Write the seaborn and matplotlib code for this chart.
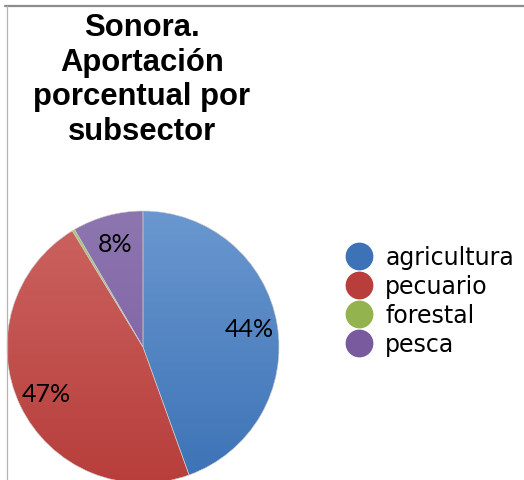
import numpy as np
import matplotlib
matplotlib.use("Agg")
import matplotlib.pyplot as plt
import seaborn as sns
from matplotlib.colors import LinearSegmentedColormap
from matplotlib.lines import Line2D

sns.set_style("white")
plt.rcParams["text.color"] = "black"

# data
subsectores = ["agricultura", "pecuario", "forestal", "pesca"]
aportacion = [44.5, 46.8, 0.3, 8.4]
color_top = ["#6a97cf", "#cc6461", "#a9c870", "#8d76b0"]
color_bottom = ["#3c73b6", "#b73e3b", "#93b34f", "#7a5a9e"]
titulo = "Sonora.\nAportación\nporcentual por\nsubsector"

W, H = 524, 481
fig = plt.figure(figsize=(W / 100, H / 100), dpi=100)

# pie axes (center ~ (143, 348), radius ~136 px)
ax = fig.add_axes([7 / W, -3 / H, 272 / W, 272 / H])
wedges, texts, autotexts = ax.pie(
    aportacion,
    startangle=90,
    counterclock=False,
    colors=color_bottom,
    radius=1,
    autopct=lambda p: f"{p:.0f}%" if p >= 1 else "",
    pctdistance=0.79,
    wedgeprops=dict(linewidth=0.4, edgecolor="#c8c8c8"),
    textprops=dict(family="Lato", fontsize=18, color="black"),
)
ax.set_xlim(-1, 1)
ax.set_ylim(-1, 1)
ax.set_aspect("equal")
ax.axis("off")

# vertical gradient fill inside every wedge
grad = np.linspace(0, 1, 256).reshape(-1, 1)
for w, ct, cb in zip(wedges, color_top, color_bottom):
    cmap = LinearSegmentedColormap.from_list("g", [cb, ct])
    im = ax.imshow(grad, cmap=cmap, extent=[-1, 1, -1, 1], origin="lower",
                   aspect="auto", zorder=w.get_zorder(), interpolation="bilinear")
    im.set_clip_path(w)
    w.set_facecolor("none")
    w.set_zorder(w.get_zorder() + 0.1)
for t in autotexts:
    t.set_zorder(5)

# title
fig.text(142 / W, 1 - 13 / H, titulo, ha="center", va="top",
         family="Liberation Sans", fontweight="bold", fontsize=22.3,
         linespacing=1.2, color="black")

# legend with round markers
handles = [Line2D([], [], marker="o", linestyle="none", markersize=19,
                  markerfacecolor=cb, markeredgecolor=cb)
           for cb in color_bottom]
fig.legend(handles, subsectores, loc="upper left",
           bbox_to_anchor=(345 / W, 1 - 246 / H), frameon=False,
           prop=dict(family="DejaVu Sans", size=17),
           labelspacing=0.21, handletextpad=0.5, handlelength=1.2,
           borderaxespad=0, borderpad=0)

# chart-area border (top and left)
fig.add_artist(Line2D([5 / W, 1], [1 - 6.5 / H, 1 - 6.5 / H],
                      transform=fig.transFigure, color="#8c8c8c", lw=1.6))
fig.add_artist(Line2D([6.5 / W, 6.5 / W], [0, 1 - 6.5 / H],
                      transform=fig.transFigure, color="#b4b4b4", lw=0.9))

fig.savefig("out.png", dpi=100)
